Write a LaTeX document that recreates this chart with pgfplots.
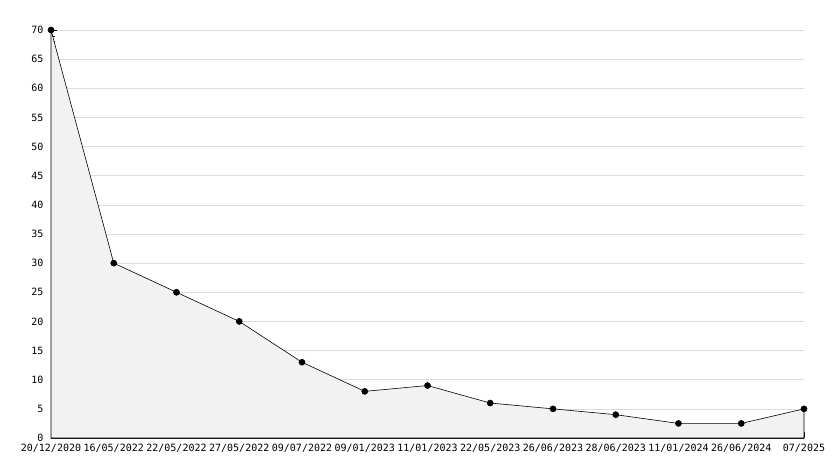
\documentclass[border=0pt]{standalone}
\usepackage{pgfplots}
\pgfplotsset{compat=1.18}
\usepackage{fontspec}
\setmonofont{DejaVu Sans Mono}
\definecolor{areafill}{HTML}{F2F2F2}
\definecolor{gridgray}{HTML}{DCDCDC}
\begin{document}
\begin{tikzpicture}
\begin{axis}[
  at={(0,0)}, anchor=origin,
  scale only axis,
  width=753bp, height=408bp,
  xmin=0, xmax=12, ymin=0, ymax=70,
  axis lines=left,
  axis line style={-, black, line width=0.8pt},
  xtick={0,...,12},
  xticklabels={20/12/2020,16/05/2022,22/05/2022,27/05/2022,09/07/2022,09/01/2023,11/01/2023,22/05/2023,26/06/2023,28/06/2023,11/01/2024,26/06/2024,07/2025},
  ytick={0,5,...,70},
  minor ytick={0,...,70},
  tick align=inside,
  major tick length=6bp,
  minor tick length=4bp,
  tick style={black, line width=0.6pt},
  ymajorgrids,
  grid style={gridgray, line width=0.6pt},
  /pgf/number format/assume math mode=true,
  ticklabel style={font=\ttfamily\fontsize{10bp}{12bp}\selectfont},
  xticklabel style={yshift=-3bp},
  yticklabel style={xshift=-4bp},
  clip=false,
]
\addplot[draw=black, line width=0.6pt, fill=areafill, mark=*, mark size=3bp, mark options={fill=black, draw=black}]
  coordinates {(0,70) (1,30) (2,25) (3,20) (4,13) (5,8) (6,9) (7,6) (8,5) (9,4) (10,2.5) (11,2.5) (12,5)} \closedcycle;
\end{axis}
\pgfresetboundingbox
\path[use as bounding box] (-51bp,-30bp) rectangle (783bp,438bp);
\end{tikzpicture}
\end{document}
